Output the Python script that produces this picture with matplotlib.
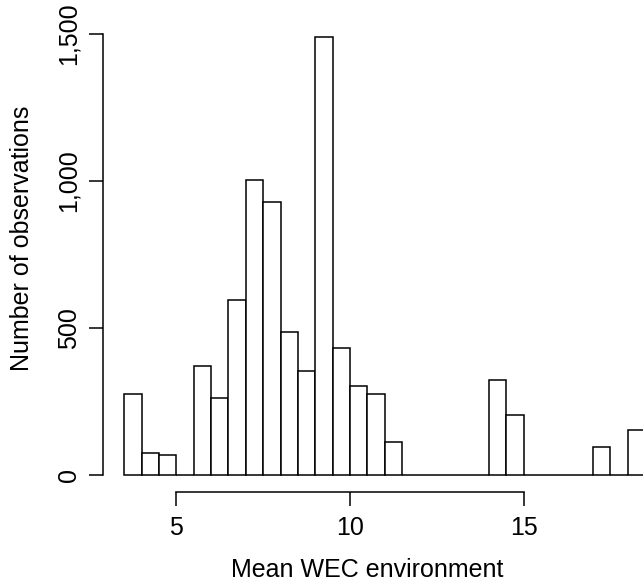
import matplotlib.pyplot as plt
import matplotlib.ticker as ticker
import numpy as np

# histogram bins (0.5 wide) and counts
bin_left = np.arange(3.5, 18.5, 0.5)
counts = [275, 75, 67, 0, 369, 260, 594, 1004, 927, 485, 353, 1491, 431, 301, 275,
          110, 0, 0, 0, 0, 0, 324, 204, 0, 0, 0, 0, 94, 0, 153]
x_ticks = [5, 10, 15]
y_ticks = [0, 500, 1000, 1500]

plt.rcParams['font.family'] = ['Liberation Sans', 'DejaVu Sans']
plt.rcParams['font.size'] = 18

W, H = 643, 582
fig = plt.figure(figsize=(W / 100, H / 100), dpi=100)
ax = fig.add_axes([103.3 / W, 1 - 492.3 / H, (666 - 103.3) / W, (492.3 - 19.3) / H])

ax.bar(bin_left, counts, width=0.5, align='edge', facecolor='white',
       edgecolor='black', linewidth=1.1)

ax.set_xlim(2.895, 19.105)
ax.set_ylim(-59.6, 1550.6)

for s in ['top', 'right']:
    ax.spines[s].set_visible(False)
ax.spines['left'].set_bounds(0, 1500)
ax.spines['bottom'].set_bounds(5, 15)
ax.spines['left'].set_linewidth(1.1)
ax.spines['bottom'].set_linewidth(1.1)

ax.set_xticks(x_ticks)
ax.set_yticks(y_ticks)
ax.yaxis.set_major_formatter(ticker.FuncFormatter(lambda v, _: f'{int(v):,}'))
ax.tick_params(axis='both', length=10, width=1.1, direction='out')
ax.tick_params(axis='x', pad=7)
ax.tick_params(axis='y', pad=6)
for lab in ax.get_yticklabels():
    lab.set_rotation(90)
    lab.set_va('center')

fig.text(367 / W, 1 - 570 / H, 'Mean WEC environment', ha='center', va='center')
fig.text(22 / W, 1 - 238 / H, 'Number of observations', ha='center', va='center',
         rotation=90)

fig.savefig('out.png', dpi=100)
